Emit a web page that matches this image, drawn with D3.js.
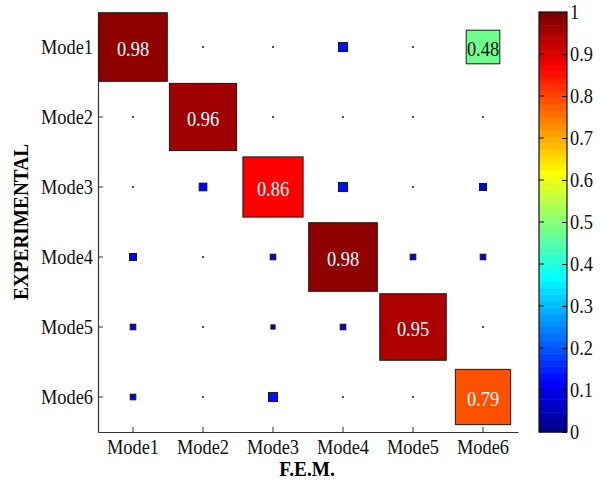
<!DOCTYPE html>
<html>
<head>
<meta charset="utf-8">
<script src="https://cdn.jsdelivr.net/npm/d3@7"></script>
<style>
  html, body { margin: 0; padding: 0; background: #fff; }
  svg { display: block; }
  text { font-family: "Liberation Serif", "Times New Roman", serif; }
</style>
</head>
<body>
<svg id="chart" width="601" height="483"></svg>
<script>
// Mode labels for both axes
const femModes = ["Mode1", "Mode2", "Mode3", "Mode4", "Mode5", "Mode6"];
const expModes = ["Mode1", "Mode2", "Mode3", "Mode4", "Mode5", "Mode6"];

// MAC values, one array per experimental mode (columns follow femModes)
const macMode1 = [0.98, 0.01, 0.01, 0.13, 0.01, 0.48];
const macMode2 = [0.01, 0.96, 0.01, 0.01, 0.01, 0.01];
const macMode3 = [0.01, 0.11, 0.86, 0.13, 0.01, 0.10];
const macMode4 = [0.10, 0.01, 0.08, 0.98, 0.08, 0.08];
const macMode5 = [0.08, 0.01, 0.06, 0.08, 0.95, 0.01];
const macMode6 = [0.08, 0.01, 0.13, 0.01, 0.01, 0.79];
const macRows = [macMode1, macMode2, macMode3, macMode4, macMode5, macMode6];

// Values that get a printed label
const labelThreshold = 0.3;

// Colour bar ticks
const colorbarTicks = [0, 0.1, 0.2, 0.3, 0.4, 0.5, 0.6, 0.7, 0.8, 0.9, 1];

const svg = d3.select("#chart");
const plot = { left: 98, right: 518, top: 12, bottom: 432 };
const cbar = { left: 539, right: 567 };
const serif = '"Liberation Serif", "Times New Roman", serif';
const fontSize = 20;   // glyphs are drawn slightly condensed
const squeeze = 0.92;

// 64-level jet colormap, indexed like a scaled colormap lookup
const nLevels = 64;
function jetAt(x) {
  const c = v => Math.round(255 * Math.max(0, Math.min(1, v)));
  return d3.rgb(c(1.5 - Math.abs(4 * x - 3)), c(1.5 - Math.abs(4 * x - 2)), c(1.5 - Math.abs(4 * x - 1)));
}
function jetColor(v) {
  const i = Math.min(nLevels, Math.floor(v * nLevels) + 1);
  return jetAt(i / nLevels);
}

const x = d3.scaleBand().domain(femModes).range([plot.left, plot.right]);
const y = d3.scaleBand().domain(expModes).range([plot.top, plot.bottom]);
// square side grows linearly with the MAC value, 1 fills the whole cell
const side = d3.scaleLinear().domain([0, 1]).range([0, x.bandwidth()]);

// axes with inward ticks
const xAxis = d3.axisBottom(x).tickSize(-5).tickSizeOuter(0);
const yAxis = d3.axisLeft(y).tickSize(-5).tickSizeOuter(0);

const gx = svg.append("g").attr("transform", `translate(0,${plot.bottom})`).call(xAxis);
const gy = svg.append("g").attr("transform", `translate(${plot.left},0)`).call(yAxis);
[gx, gy].forEach(g => {
  g.attr("font-family", serif);
  g.select(".domain").attr("stroke", "#333").attr("stroke-width", 1.2);
  g.selectAll(".tick line").attr("stroke", "#333");
  g.selectAll(".tick text").attr("font-size", fontSize).attr("fill", "#111");
});
gx.selectAll(".tick text").attr("y", 22).attr("dy", 0)
  .attr("transform", `scale(${squeeze},1)`);
gy.selectAll(".tick text").attr("x", -5 / squeeze).attr("dy", "0.35em")
  .attr("transform", `scale(${squeeze},1)`);

// cells
const cells = [];
macRows.forEach((row, r) => row.forEach((v, c) => cells.push({ r, c, v })));

const cellG = svg.append("g");
cellG.selectAll("rect").data(cells).join("rect")
  .attr("x", d => x(femModes[d.c]) + x.bandwidth() / 2 - side(d.v) / 2)
  .attr("y", d => y(expModes[d.r]) + y.bandwidth() / 2 - side(d.v) / 2)
  .attr("width", d => side(d.v))
  .attr("height", d => side(d.v))
  .attr("fill", d => jetColor(d.v))
  .attr("stroke", "#1a1a1a")
  .attr("stroke-width", 1);

cellG.selectAll("text").data(cells.filter(d => d.v >= labelThreshold)).join("text")
  .attr("transform", d =>
    `translate(${x(femModes[d.c]) + x.bandwidth() / 2},${y(expModes[d.r]) + y.bandwidth() / 2 + 9}) scale(${squeeze},1)`)
  .attr("text-anchor", "middle")
  .attr("font-size", fontSize)
  .attr("fill", d => (d.v > 0.3 && d.v < 0.7) ? "#111" : "#fff")
  .text(d => d3.format(".2f")(d.v));

// axis titles
svg.append("text")
  .attr("transform", `translate(${(plot.left + plot.right) / 2 - 1},476) scale(${squeeze},1)`)
  .attr("text-anchor", "middle")
  .attr("font-size", 21)
  .attr("font-weight", "bold")
  .text("F.E.M.");

svg.append("text")
  .attr("transform", `translate(28,${(plot.top + plot.bottom) / 2}) rotate(-90) scale(${squeeze},1)`)
  .attr("text-anchor", "middle")
  .attr("font-size", 21)
  .attr("font-weight", "bold")
  .text("EXPERIMENTAL");

// colour bar
const cy = d3.scaleLinear().domain([0, 1]).range([plot.bottom, plot.top]);
const levels = d3.range(1, nLevels + 1);
svg.append("g").selectAll("rect").data(levels).join("rect")
  .attr("x", cbar.left)
  .attr("width", cbar.right - cbar.left)
  .attr("y", i => cy(i / nLevels))
  .attr("height", i => cy((i - 1) / nLevels) - cy(i / nLevels) + 0.5)
  .attr("fill", i => jetAt(i / nLevels));

svg.append("rect")
  .attr("x", cbar.left).attr("y", plot.top)
  .attr("width", cbar.right - cbar.left).attr("height", plot.bottom - plot.top)
  .attr("fill", "none").attr("stroke", "#111").attr("stroke-width", 1.2);

const cbAxis = d3.axisRight(cy).tickValues(colorbarTicks).tickFormat(d3.format("~g"))
  .tickSize(-5).tickSizeOuter(0);
const gcb = svg.append("g").attr("transform", `translate(${cbar.right},0)`)
  .attr("font-family", serif).call(cbAxis);
gcb.select(".domain").remove();
gcb.selectAll(".tick line").attr("stroke", "#111");
gcb.selectAll(".tick text").attr("font-size", fontSize).attr("fill", "#111")
  .attr("x", 3 / squeeze).attr("transform", `scale(${squeeze},1)`);
// left-side ticks of the colour bar
svg.append("g").selectAll("line").data(colorbarTicks.slice(1, -1)).join("line")
  .attr("x1", cbar.left).attr("x2", cbar.left + 5)
  .attr("y1", d => cy(d)).attr("y2", d => cy(d))
  .attr("stroke", "#111");
</script>
</body>
</html>
